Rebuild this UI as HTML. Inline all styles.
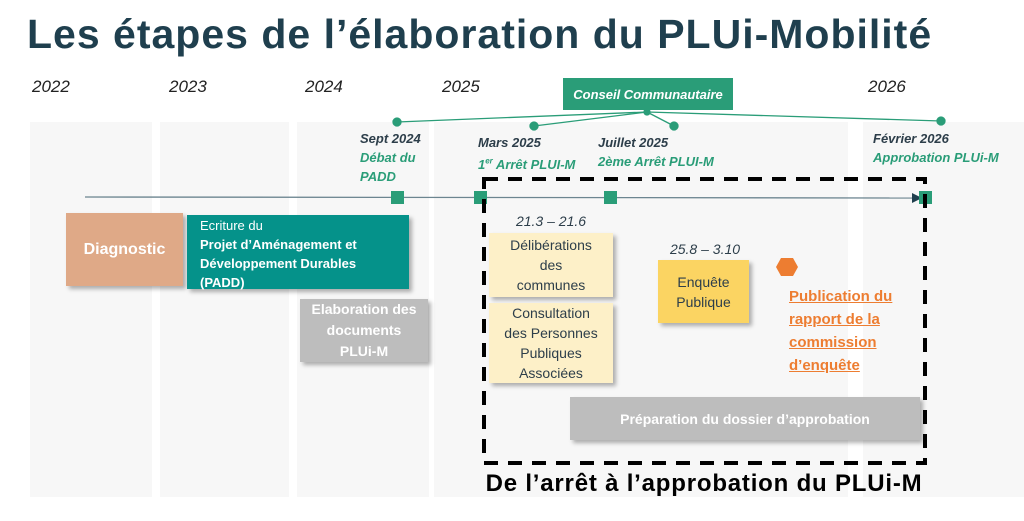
<!DOCTYPE html>
<html><head><meta charset="utf-8"><style>
*{margin:0;padding:0;box-sizing:border-box}
body{width:1024px;height:521px;background:#fff;position:relative;overflow:hidden;font-family:"Liberation Sans",sans-serif}
.a{position:absolute}
.col{position:absolute;top:122px;bottom:24px;background:#f7f7f7}
.yr{position:absolute;top:77px;font-style:italic;font-size:17px;color:#222}
.dt{position:absolute;font-style:italic;font-weight:bold;font-size:13px;line-height:19px;color:#2d3e4a}
.dt span{color:#2a9d78}
.box{position:absolute;display:flex;align-items:center;justify-content:center;text-align:center;box-shadow:3px 3px 4px rgba(0,0,0,.3)}
</style></head><body>
<div class="col" style="left:30px;width:122px"></div>
<div class="col" style="left:160px;width:129px"></div>
<div class="col" style="left:297px;width:132px"></div>
<div class="col" style="left:434px;width:414px"></div>
<div class="col" style="left:863px;width:161px"></div>

<div class="a" style="left:27px;top:11px;font-size:41px;font-weight:bold;color:#1f3f4e;letter-spacing:1px;white-space:nowrap">Les étapes de l’élaboration du PLUi-Mobilité</div>

<div class="yr" style="left:32px">2022</div>
<div class="yr" style="left:169px">2023</div>
<div class="yr" style="left:305px">2024</div>
<div class="yr" style="left:442px">2025</div>
<div class="yr" style="left:868px">2026</div>

<svg class="a" style="left:0;top:0" width="1024" height="521">
<g stroke="#2a9d78" stroke-width="1.3" fill="#2a9d78">
<line x1="647" y1="112" x2="397" y2="122"/><line x1="647" y1="112" x2="534" y2="126"/>
<line x1="647" y1="112" x2="674" y2="126"/><line x1="647" y1="112" x2="941" y2="121"/>
<circle cx="397" cy="122" r="4"/><circle cx="534" cy="126" r="4"/><circle cx="674" cy="126" r="4"/><circle cx="941" cy="121" r="4"/><circle cx="647" cy="112" r="3"/>
</g>
<line x1="85" y1="197" x2="918" y2="198" stroke="#6c8590" stroke-width="1.3"/>
<polygon points="912,193 922,198 912,203" fill="#1f3f4e"/>
<g fill="#2a9d78"><rect x="391" y="191" width="13" height="13"/><rect x="474" y="191" width="13" height="13"/><rect x="604" y="191" width="13" height="13"/><rect x="919" y="191" width="13" height="13"/></g>
<rect x="484" y="179" width="441" height="284" fill="none" stroke="#000" stroke-width="4" stroke-dasharray="14,10"/>
<polygon points="781,258 793,258 798,267 793,276 781,276 776,267" fill="#ed7d31"/>
</svg>

<div class="box" style="left:563px;top:78px;width:170px;height:32px;background:#2a9d78;color:#fff;font-style:italic;font-weight:bold;font-size:13px;box-shadow:none">Conseil Communautaire</div>

<div class="dt" style="left:360px;top:129px">Sept 2024<br><span>Débat du<br>PADD</span></div>
<div class="dt" style="left:478px;top:133px">Mars 2025<br><span>1<sup style="font-size:8px">er</sup> Arrêt PLUI-M</span></div>
<div class="dt" style="left:598px;top:133px">Juillet 2025<br><span>2ème Arrêt PLUI-M</span></div>
<div class="dt" style="left:873px;top:129px">Février 2026<br><span>Approbation PLUi-M</span></div>

<div class="box" style="left:66px;top:213px;width:117px;height:73px;background:#dfa987;color:#fff;font-weight:bold;font-size:16px">Diagnostic</div>
<div class="box" style="left:187px;top:215px;width:222px;height:74px;background:#05928a;color:#fff;font-size:13px;line-height:19px;justify-content:flex-start;text-align:left;padding-left:13px;display:block;padding-top:1px">Ecriture du<br><b>Projet d’Aménagement et<br>Développement Durables<br>(PADD)</b></div>
<div class="box" style="left:300px;top:299px;width:128px;height:63px;background:#bdbdbd;color:#fff;font-weight:bold;font-size:14px;line-height:21px">Elaboration des<br>documents<br>PLUi-M</div>

<div class="a" style="left:489px;top:213px;width:124px;text-align:center;font-style:italic;font-size:14px;color:#2d3e4a">21.3 – 21.6</div>
<div class="box" style="left:489px;top:233px;width:124px;height:64px;background:#fdf0c8;color:#2d3e4a;font-size:14px;line-height:20px">Délibérations<br>des<br>communes</div>
<div class="box" style="left:489px;top:303px;width:124px;height:80px;background:#fdf0c8;color:#2d3e4a;font-size:14px;line-height:20px">Consultation<br>des Personnes<br>Publiques<br>Associées</div>
<div class="a" style="left:650px;top:241px;width:110px;text-align:center;font-style:italic;font-size:14px;color:#2d3e4a">25.8 – 3.10</div>
<div class="box" style="left:658px;top:260px;width:91px;height:63px;background:#fbd462;color:#2d3e4a;font-size:14px;line-height:20px">Enquête<br>Publique</div>
<div class="a" style="left:789px;top:285px;font-weight:bold;font-size:15px;line-height:23px;color:#ed7d31;text-decoration:underline">Publication du<br>rapport de la<br>commission<br>d’enquête</div>
<div class="box" style="left:570px;top:397px;width:350px;height:43px;background:#bdbdbd;color:#fff;font-weight:bold;font-size:14px">Préparation du dossier d’approbation</div>

<div class="a" style="left:454px;top:470px;width:500px;text-align:center;font-weight:bold;font-size:24px;color:#000;letter-spacing:0.8px;white-space:nowrap">De l’arrêt à l’approbation du PLUi-M</div>
</body></html>
